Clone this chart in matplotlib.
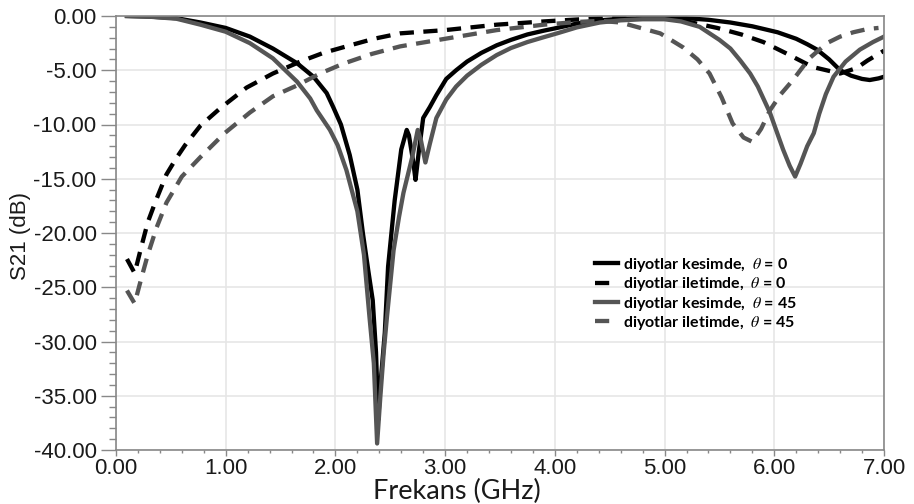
import matplotlib
matplotlib.use("Agg")
import matplotlib.pyplot as plt
from matplotlib.ticker import MultipleLocator

plt.rcParams['mathtext.fontset'] = 'stix'

# S21 responses (frequency in GHz, S21 in dB)
f_kesim_0 = [0.1, 0.3, 0.55, 0.77, 1.0, 1.22, 1.43, 1.65, 1.8, 1.92, 1.98, 2.05, 2.13, 2.2,
             2.25, 2.3, 2.34, 2.37, 2.39, 2.41, 2.45, 2.48, 2.54, 2.6, 2.65, 2.67, 2.71,
             2.73, 2.76, 2.8, 2.86, 2.92, 3.01, 3.1, 3.2, 3.33, 3.47, 3.6, 3.75, 3.9, 4.02,
             4.2, 4.41, 4.6, 4.8, 5.0, 5.2, 5.4, 5.6, 5.8, 6.03, 6.2, 6.3, 6.39, 6.5, 6.6,
             6.7, 6.8, 6.87, 6.95, 7.0]
s_kesim_0 = [0.0, -0.05, -0.2, -0.6, -1.1, -1.9, -3.0, -4.35, -5.6, -7.1, -8.4, -10.0,
             -12.8, -16.0, -20.0, -23.5, -26.2, -31.0, -37.2, -34.0, -29.2, -23.1, -17.0,
             -12.3, -10.5, -11.0, -13.5, -15.1, -12.5, -9.4, -8.4, -7.3, -5.8, -5.0, -4.2,
             -3.4, -2.7, -2.2, -1.7, -1.35, -1.1, -0.7, -0.4, -0.25, -0.2, -0.15, -0.2,
             -0.35, -0.6, -0.95, -1.5, -2.1, -2.6, -3.1, -4.0, -5.0, -5.5, -5.8, -5.9,
             -5.75, -5.6]

f_ilet_0 = [0.1, 0.17, 0.23, 0.29, 0.36, 0.46, 0.55, 0.63, 0.77, 0.95, 1.19, 1.43, 1.68,
            1.89, 2.1, 2.35, 2.59, 3.0, 3.47, 3.9, 4.41, 5.0, 5.2, 5.48, 5.7, 5.9, 6.1,
            6.35, 6.6, 6.75, 6.85, 7.0]
s_ilet_0 = [-22.4, -23.7, -21.3, -19.0, -17.1, -14.6, -13.1, -11.9, -10.1, -8.5, -6.6,
            -5.3, -4.2, -3.4, -2.8, -2.1, -1.6, -1.3, -0.8, -0.5, -0.2, -0.2, -0.5, -1.1,
            -1.7, -2.4, -3.4, -4.7, -5.3, -4.8, -4.1, -3.2]

f_kesim_45 = [0.1, 0.3, 0.55, 0.77, 1.0, 1.22, 1.43, 1.65, 1.77, 1.83, 1.95, 2.02, 2.1,
              2.2, 2.26, 2.31, 2.35, 2.38, 2.41, 2.44, 2.47, 2.53, 2.58, 2.62, 2.7, 2.75,
              2.78, 2.82, 2.86, 2.92, 3.01, 3.1, 3.2, 3.33, 3.47, 3.6, 3.75, 3.9, 4.02,
              4.2, 4.41, 4.6, 4.8, 5.0, 5.15, 5.32, 5.5, 5.6, 5.69, 5.78, 5.85, 5.96,
              6.08, 6.14, 6.19, 6.24, 6.3, 6.36, 6.41, 6.47, 6.54, 6.65, 6.78, 6.9, 7.0]
s_kesim_45 = [0.0, -0.06, -0.25, -0.8, -1.45, -2.5, -3.9, -6.05, -7.6, -8.7, -10.5, -11.9,
              -14.2, -18.0, -22.0, -27.7, -32.0, -39.4, -35.0, -31.0, -27.7, -21.6, -18.5,
              -16.3, -13.0, -10.5, -11.5, -13.5, -11.8, -9.4, -7.7, -6.5, -5.5, -4.5,
              -3.6, -2.95, -2.4, -1.95, -1.6, -1.05, -0.6, -0.4, -0.3, -0.3, -0.5, -1.0,
              -2.2, -3.0, -4.1, -5.3, -6.5, -8.9, -12.3, -13.8, -14.8, -13.6, -12.0,
              -10.8, -9.0, -7.2, -5.6, -4.2, -3.1, -2.4, -1.9]

f_ilet_45 = [0.1, 0.17, 0.23, 0.29, 0.37, 0.46, 0.6, 0.77, 0.99, 1.22, 1.43, 1.65, 1.86,
             2.07, 2.33, 2.59, 3.0, 3.47, 3.9, 4.2, 4.41, 4.6, 4.78, 4.96, 5.17, 5.3,
             5.41, 5.52, 5.62, 5.72, 5.8, 5.88, 5.96, 6.06, 6.17, 6.32, 6.48, 6.6, 6.72,
             6.85, 6.95]
s_ilet_45 = [-25.3, -26.5, -24.2, -22.0, -19.5, -17.2, -14.8, -13.0, -10.8, -8.9, -7.4,
             -6.4, -5.3, -4.4, -3.5, -2.8, -2.1, -1.3, -0.8, -0.55, -0.45, -0.6, -1.1,
             -1.6, -2.9, -4.0, -5.3, -7.5, -9.9, -11.2, -11.6, -10.4, -8.7, -7.2, -5.9,
             -3.9, -2.5, -1.9, -1.5, -1.2, -1.1]

labels = ["diyotlar kesimde,  $\\theta$ = 0",
          "diyotlar iletimde,  $\\theta$ = 0",
          "diyotlar kesimde,  $\\theta$ = 45",
          "diyotlar iletimde,  $\\theta$ = 45"]

x_ticks = [0, 1, 2, 3, 4, 5, 6, 7]
x_ticklabels = ["0.00", "1.00", "2.00", "3.00", "4.00", "5.00", "6.00", "7.00"]
y_ticks = [0, -5, -10, -15, -20, -25, -30, -35, -40]
y_ticklabels = ["0.00", "-5.00", "-10.00", "-15.00", "-20.00", "-25.00", "-30.00",
                "-35.00", "-40.00"]

BLACK = "#000000"
GRAY = "#555555"
dash = (0, (3.3, 2.2))

fig = plt.figure(figsize=(9.14, 5.04), dpi=100)
ax = fig.add_axes([116 / 914, 1 - 450 / 504, (884 - 116) / 914, (450 - 16) / 504])

lw = 3.1
ax.plot(f_kesim_0, s_kesim_0, color=BLACK, lw=lw, label=labels[0], solid_joinstyle='round')
ax.plot(f_ilet_0, s_ilet_0, color=BLACK, lw=lw, ls=dash, label=labels[1])
ax.plot(f_kesim_45, s_kesim_45, color=GRAY, lw=lw, label=labels[2], solid_joinstyle='round')
ax.plot(f_ilet_45, s_ilet_45, color=GRAY, lw=lw, ls=dash, label=labels[3])

ax.set_xlim(0, 7)
ax.set_ylim(-40, 0)
ax.set_xticks(x_ticks)
ax.set_xticklabels(x_ticklabels)
ax.set_yticks(y_ticks)
ax.set_yticklabels(y_ticklabels)
ax.xaxis.set_minor_locator(MultipleLocator(0.2))
ax.yaxis.set_minor_locator(MultipleLocator(1))

for lab in ax.get_xticklabels() + ax.get_yticklabels():
    lab.set_fontfamily("Liberation Sans")
    lab.set_fontsize(16)
    lab.set_color("#1a1a1a")

ax.tick_params(axis='y', which='major', direction='out', length=10.5, width=1,
               color="#888888", pad=3.5)
ax.tick_params(axis='y', which='minor', direction='out', length=5, width=1, color="#888888")
ax.tick_params(axis='x', which='major', direction='out', length=4, width=1,
               color="#888888", pad=2)
ax.tick_params(axis='x', which='minor', direction='out', length=2.5, width=1,
               color="#888888")

ax.grid(True, which='major', color="#e6e6e6", lw=1.2)
ax.set_axisbelow(True)
for sp in ax.spines.values():
    sp.set_color("#888888")
    sp.set_linewidth(1.2)

ax.set_ylabel("S21 (dB)", fontfamily="Liberation Sans", fontsize=16, color="#1a1a1a")
ax.yaxis.set_label_coords((31 - 116) / 768, (450 - 236) / 434)
ax.set_xlabel("Frekans (GHz)", fontfamily="Lato", fontsize=19.5, color="#1a1a1a",
              va='center')
ax.xaxis.set_label_coords((457 - 116) / 768, (450 - 491) / 434)

leg = ax.legend(loc='upper left', bbox_to_anchor=(595 / 914, 1 - 256 / 504),
                bbox_transform=fig.transFigure, frameon=False,
                prop=dict(family="Lato", weight="bold", size=11.5),
                handlelength=1.45, handletextpad=0.3, labelspacing=0.08, borderpad=0,
                borderaxespad=0)

fig.savefig("out.png", dpi=100)
